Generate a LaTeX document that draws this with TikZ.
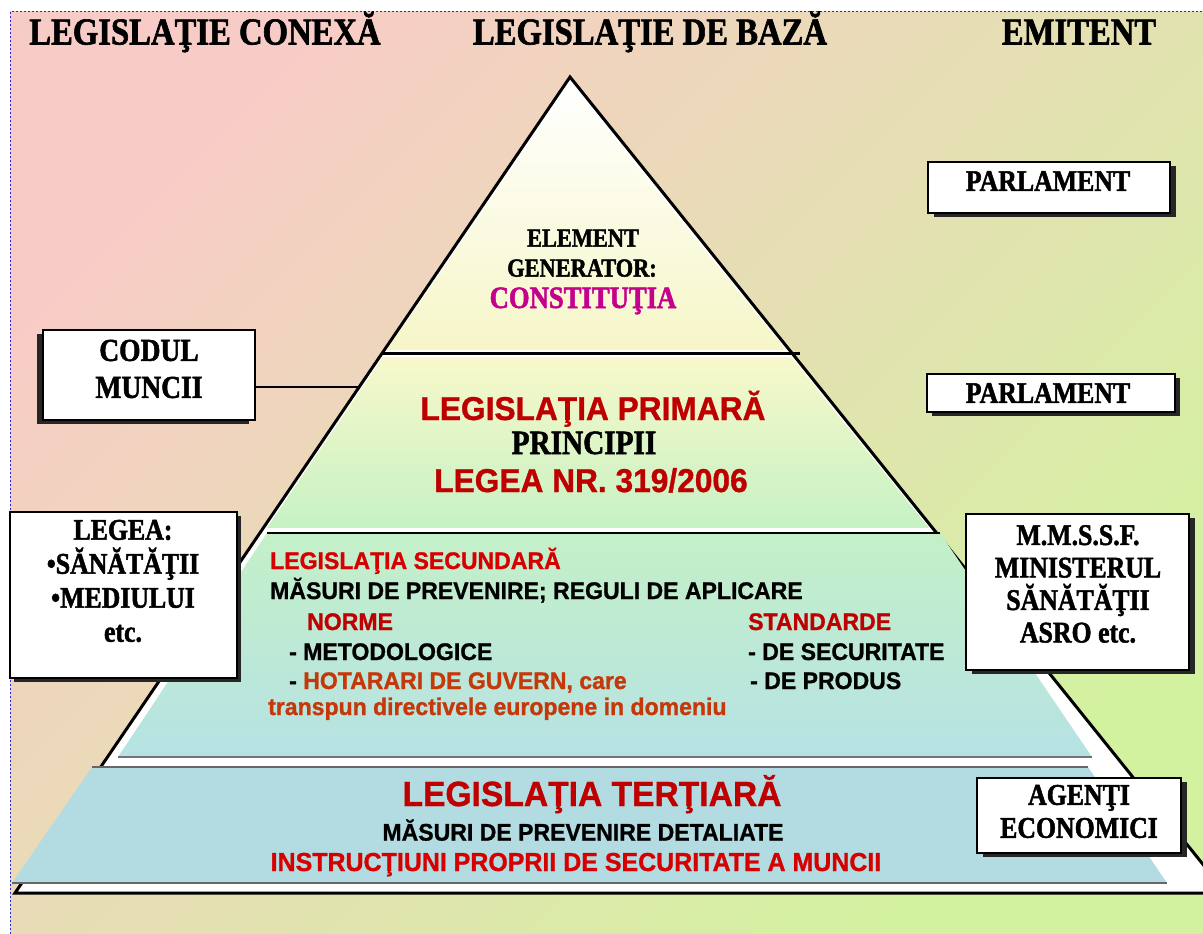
\documentclass[tikz,border=0pt]{standalone}
\usepackage{fontspec}
\usetikzlibrary{shadows}
\newfontfamily\pyrserif[FakeStretch=0.86,FakeBold=1.6]{Liberation Serif}
\newfontfamily\pyrsans[FakeStretch=0.96,FakeBold=1]{Liberation Sans}
\definecolor{bgtl}{RGB}{248,204,198}
\definecolor{bgbr}{RGB}{210,242,160}
\definecolor{dashblue}{RGB}{40,40,230}
\definecolor{apexlow}{RGB}{246,246,200}
\definecolor{primtop}{RGB}{248,248,202}
\definecolor{primbot}{RGB}{198,242,196}
\definecolor{sectop}{RGB}{196,240,200}
\definecolor{secbot}{RGB}{182,226,228}
\definecolor{tertfill}{RGB}{178,220,226}
\definecolor{lawred}{RGB}{190,0,0}
\definecolor{brightred}{RGB}{214,0,0}
\definecolor{hgorange}{RGB}{196,56,10}
\definecolor{constmag}{RGB}{196,0,140}
\begin{document}
\begin{tikzpicture}[x=1pt,y=-1pt,
    colhead/.style={anchor=base,font=\pyrserif\bfseries\fontsize{38}{40}\selectfont},
    emit/.style={draw,line width=1.5pt,fill=white,inner sep=0pt,
      drop shadow={shadow xshift=#1,shadow yshift=-4pt,fill=black!85,opacity=1}},
    emit/.default=5pt,
    emtext/.style={align=center,inner sep=0pt,font=\pyrserif\bfseries\fontsize{30}{#1}\selectfont},
    emtext/.default=33,
    srf/.style={anchor=base,inner sep=0pt,font=\pyrserif\bfseries\fontsize{26}{28}\selectfont},
    big/.style={anchor=base,inner sep=0pt,font=\pyrsans\bfseries\fontsize{33}{35}\selectfont},
    mid/.style={anchor=base,inner sep=0pt,font=\pyrsans\bfseries\fontsize{24}{26}\selectfont},
    row/.style={anchor=base west,inner sep=0pt,font=\pyrsans\bfseries\fontsize{24}{26}\selectfont}]
  \useasboundingbox (0,0) rectangle (1203,934);
  \fill[white] (0,0) rectangle (1203,934);
  \shade[top color=bgtl,bottom color=bgbr,shading angle=45] (10,12) rectangle (1203,934);
  \draw[dashblue,line width=1pt,dash pattern=on 2pt off 2pt] (10,934) -- (10,12) -- (1203,12);

  \coordinate (apex) at (570,77);
  \coordinate (baseL) at (15,893);
  \coordinate (baseR) at (1226,893);
  \fill[white] (apex) -- (baseL) -- (baseR) -- cycle;
  \shade[top color=white,bottom color=apexlow] (570,84) -- (387,350) -- (786,350) -- cycle;
  \shade[top color=primtop,bottom color=primbot] (383,357) -- (791,357) -- (929,528) -- (267,528) -- cycle;
  \draw[line width=3pt] (apex) -- (baseL) -- (baseR) -- cycle;
  \draw[line width=3pt] (382,353) -- (800,353);
  \shade[top color=sectop,bottom color=secbot] (267,533) -- (940,533) -- (1092,757) -- (118,757) -- cycle;
  \draw[line width=2.5pt] (267,533) -- (940,533);
  \draw[black!55,line width=1.5pt] (118,757) -- (1092,757);
  \fill[tertfill] (92,767) -- (1088,767) -- (1167,883) -- (12,883) -- cycle;
  \draw[black!60,line width=1.5pt] (92,767) -- (1088,767) (12,883) -- (1167,883);

  \node[colhead] (conexa) at (205,44.5) {LEGISLAŢIE CONEXĂ};
  \node[colhead] (baza) at (650,44.5) {LEGISLAŢIE DE BAZĂ};
  \node[colhead] (emitent) at (1079,44.5) {EMITENT};

  \node[emit=-6pt,minimum width=212,minimum height=90] (codul) at (149,375) {};
  \node[emit=4pt,minimum width=227,minimum height=166] (legea) at (123.5,595) {};
  \node[emit=6pt,minimum width=242,minimum height=51] (parl1) at (1049,187.5) {};
  \node[emit,minimum width=248,minimum height=38] (parl2) at (1051,393) {};
  \node[emit=6pt,minimum width=223,minimum height=156] (mmssf) at (1077.5,592) {};
  \node[emit=6pt,minimum width=204,minimum height=75] (agenti) at (1079,815.5) {};
  \coordinate (codulend) at (359,387);
  \draw[line width=1.5pt] (codulend -| codul.east) -- (codulend);

  \node[emtext=37,font=\pyrserif\bfseries\fontsize{32}{37}\selectfont] (codul-t) at (149,369) {CODUL\\MUNCII};
  \node[emtext=34] (legea-t) at (123,581) {LEGEA:\\•SĂNĂTĂŢII\\•MEDIULUI\\etc.};
  \node[emtext] (parl1-t) at (1048,181) {PARLAMENT};
  \node[emtext] (parl2-t) at (1048,393) {PARLAMENT};
  \node[emtext=32.5] (mmssf-t) at (1078,584) {M.M.S.S.F.\\MINISTERUL\\SĂNĂTĂŢII\\ASRO etc.};
  \node[emtext] (agenti-t) at (1079,811.5) {AGENŢI\\ECONOMICI};

  \node[srf] (elem) at (583,246.6) {ELEMENT};
  \node[srf] (gen) at (582,276.6) {GENERATOR:};
  \node[srf,font=\pyrserif\bfseries\fontsize{31}{33}\selectfont,text=constmag] (const) at (583,308) {CONSTITUŢIA};

  \node[big,text=lawred] (prim) at (593,420) {LEGISLAŢIA PRIMARĂ};
  \node[srf,font=\pyrserif\bfseries\fontsize{34}{36}\selectfont] (princ) at (584,454) {PRINCIPII};
  \node[big,text=lawred] (lege) at (591,492) {LEGEA NR. 319/2006};

  \node[row,text=brightred] (secund) at (270,569) {LEGISLAŢIA SECUNDARĂ};
  \node[row] (masuri) at (270,599) {MĂSURI DE PREVENIRE; REGULI DE APLICARE};
  \node[row,text=lawred] (norme) at (307,630) {NORME};
  \node[row,text=lawred] (stand) at (748,630) {STANDARDE};
  \node[row] (metod) at (289,660) {- METODOLOGICE};
  \node[row] (secur) at (748,660) {- DE SECURITATE};
  \node[row] (hotar) at (289,689) {- \textcolor{hgorange}{HOTARARI DE GUVERN, care}};
  \node[row] (produs) at (750,689) {- DE PRODUS};
  \node[row,text=hgorange] (transp) at (268,715) {transpun directivele europene in domeniu};

  \node[big,font=\pyrsans\bfseries\fontsize{35}{37}\selectfont,text=lawred] (tert) at (592,806) {LEGISLAŢIA TERŢIARĂ};
  \node[mid] (detal) at (583,840.6) {MĂSURI DE PREVENIRE DETALIATE};
  \node[mid,font=\pyrsans\bfseries\fontsize{26}{28}\selectfont,text=brightred] (instr) at (576,871) {INSTRUCŢIUNI PROPRII DE SECURITATE A MUNCII};
\end{tikzpicture}
\end{document}
